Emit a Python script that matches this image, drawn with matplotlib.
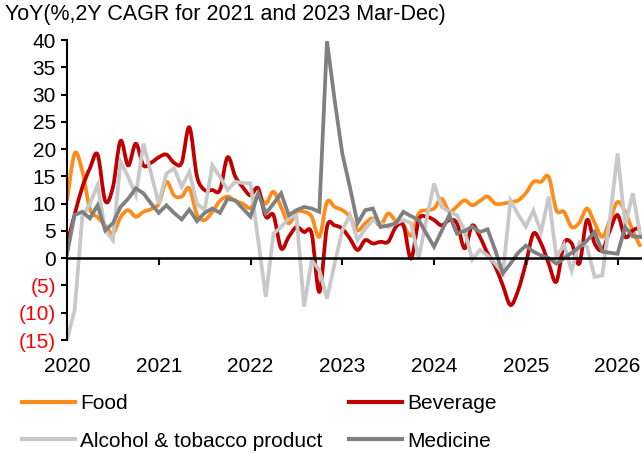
import numpy as np
import pandas as pd
import matplotlib
matplotlib.use("Agg")
import matplotlib.pyplot as plt
from matplotlib.path import Path
from matplotlib.patches import PathPatch
from matplotlib.lines import Line2D

plt.rcParams['font.family'] = ['Liberation Sans', 'DejaVu Sans']

# ---------------- data (monthly, Jan 2020 onward) ----------------
start_month = "2020-01"
title = "YoY(%,2Y CAGR for 2021 and 2023 Mar-Dec)"
series_names = ["Food", "Beverage", "Alcohol & tobacco product", "Medicine"]

food = [10.5, 19.2, 16.0, 9.0, 7.5, 6.0, 4.5, 7.5, 8.8, 7.6, 8.5, 9.0,
        10.0, 14.0, 11.5, 11.3, 12.8, 8.0, 7.0, 8.5, 10.5, 11.3, 10.5, 10.0,
        9.2, 11.5, 10.0, 12.2, 9.4, 6.4, 8.5, 8.5, 7.6, 3.9, 10.3, 9.4,
        8.8, 7.6, 5.1, 6.4, 7.3, 6.0, 8.2, 6.8, 6.0, 4.2, 8.2, 8.8,
        9.1, 10.9, 8.5, 9.5, 10.6, 9.7, 10.5, 11.3, 10.0, 10.0, 10.3, 10.6,
        11.9, 14.0, 14.0, 14.9, 8.8, 8.5, 5.7, 6.5, 9.1, 6.5, 3.9, 7.0,
        10.3, 8.5, 5.0, 2.1]

beverage = [2.5, 8.0, 13.0, 16.5, 19.0, 10.5, 13.0, 21.5, 17.0, 21.0, 17.0, 17.5,
            18.5, 19.0, 17.5, 17.5, 24.0, 15.0, 12.5, 12.5, 12.5, 18.5, 15.0, 13.0,
            11.5, 12.8, 7.6, 7.9, 1.8, 3.9, 5.7, 4.8, 4.5, -6.2, 5.7, 6.0,
            5.4, 3.6, 1.5, 3.3, 2.7, 3.0, 3.0, 5.7, 6.0, -0.1, 7.0, 7.6,
            7.0, 6.0, 7.0, 6.4, 1.8, 6.0, 3.9, 0.9, -1.5, -5.0, -8.6, -5.9,
            -1.0, 4.5, 2.7, -1.0, -4.3, 2.7, 2.7, -1.0, 7.0, 2.7, 1.5, 5.1,
            7.9, 3.9, 5.1, 5.7]

alcohol = [-15.0, -9.5, 7.6, 10.0, 13.4, 5.1, 3.3, 17.7, 14.9, 11.6, 21.0, 15.5,
           10.0, 15.5, 16.5, 13.1, 15.8, 10.0, 8.8, 17.0, 14.9, 12.5, 14.0, 13.8,
           13.7, 3.3, -7.1, 4.5, 5.7, 7.3, 7.9, -8.9, -0.4, -2.2, -7.4, -1.0,
           5.1, 7.9, 3.3, 5.4, 7.0, 6.4, 5.7, 6.4, 7.0, 6.4, 0.0, 7.0,
           13.7, 9.4, 8.5, 7.9, 5.0, -0.2, 1.5, 0.5, -1.0, -2.8, 10.6, 8.0,
           5.8, 8.7, 4.8, 11.3, 0.2, 2.5, -2.3, 2.9, 2.1, -3.4, -3.2, 7.3,
           19.2, 6.0, 11.9, 4.0]

medicine = [0.8, 7.9, 8.5, 7.3, 9.7, 5.1, 6.4, 9.4, 10.9, 12.8, 11.9, 10.0,
            8.3, 9.7, 8.3, 7.1, 8.9, 6.8, 8.3, 9.1, 8.3, 10.9, 10.6, 9.1,
            7.6, 11.9, 8.2, 10.0, 11.9, 7.9, 8.8, 9.4, 9.1, 8.5, 39.8, 29.0,
            19.2, 13.0, 6.4, 8.8, 9.1, 5.7, 6.0, 6.4, 8.5, 7.7, 7.0, 4.5,
            2.1, 5.0, 7.9, 4.5, 5.0, 5.8, 4.8, 5.3, 1.5, -2.8, -1.0, 1.0,
            2.3, 1.2, 0.5, 0.0, -1.0, 0.0, 1.0, 2.0, 3.2, 4.8, 1.2, 1.0,
            0.8, 5.7, 4.0, 3.9]

y_ticks = [40, 35, 30, 25, 20, 15, 10, 5, 0, -5, -10, -15]
x_tick_years = [2020, 2021, 2022, 2023, 2024, 2025, 2026]

colors = ["#FF8C1A", "#C00000", "#C8C8C8", "#808080"]
smoothed = [True, True, False, False]

# ---------------- figure ----------------
W, H = 642, 454
fig = plt.figure(figsize=(W / 100, H / 100), dpi=100)
ax = fig.add_axes([67 / W, 1 - 340 / H, (W - 67) / W, 300 / H])

dates = pd.date_range(start_month, periods=len(food), freq="MS")
x = dates.year.values + (dates.month.values - 1) / 12.0

LW = 2.7


def smooth_patch(xs, ys, color):
    xs = np.asarray(xs, float)
    ys = np.asarray(ys, float)
    n = len(xs)
    verts = [(xs[0], ys[0])]
    codes = [Path.MOVETO]
    for i in range(n - 1):
        p0 = i - 1 if i > 0 else i
        p3 = i + 2 if i + 2 < n else i + 1
        c1 = (xs[i] + (xs[i + 1] - xs[p0]) / 6, ys[i] + (ys[i + 1] - ys[p0]) / 6)
        c2 = (xs[i + 1] - (xs[p3] - xs[i]) / 6, ys[i + 1] - (ys[p3] - ys[i]) / 6)
        verts += [c1, c2, (xs[i + 1], ys[i + 1])]
        codes += [Path.CURVE4] * 3
    return PathPatch(Path(verts, codes), fill=False, edgecolor=color, lw=LW,
                     joinstyle="round", capstyle="butt")


all_series = [food, beverage, alcohol, medicine]
for vals, col, sm in zip(all_series, colors, smoothed):
    if sm:
        ax.add_patch(smooth_patch(x, vals, col))
    else:
        ax.plot(x, vals, color=col, lw=LW, solid_joinstyle="miter")

ax.set_xlim(2020, 2020 + 75.2 / 12)
ax.set_ylim(-15, 40)

for s in ["top", "right"]:
    ax.spines[s].set_visible(False)
ax.spines["left"].set_linewidth(1.5)
ax.spines["bottom"].set_linewidth(1.8)
ax.spines["bottom"].set_position(("data", 0))

ax.set_yticks(y_ticks)
ax.set_yticklabels([str(v) if v >= 0 else f"({-v})" for v in y_ticks])
for lab, v in zip(ax.get_yticklabels(), y_ticks):
    lab.set_color("#FF0000" if v < 0 else "black")
ax.set_xticks(x_tick_years)
ax.set_xticklabels([str(v) for v in x_tick_years])

ax.tick_params(axis="y", direction="out", length=4, width=1.5, pad=4, labelsize=15)
ax.tick_params(axis="x", direction="out", length=5, width=1.5, pad=66, labelsize=15)

fig.text(5 / W, 1 - 4 / H, title, fontsize=15.5, ha="left", va="top")

handles = [Line2D([], [], color=colors[0], lw=3),
           Line2D([], [], color=colors[2], lw=3),
           Line2D([], [], color=colors[1], lw=3),
           Line2D([], [], color=colors[3], lw=3)]
labels = [series_names[0], series_names[2], series_names[1], series_names[3]]
fig.legend(handles, labels, ncol=2, loc="upper left",
           bbox_to_anchor=(22 / W, 1 - 394 / H), frameon=False, fontsize=15,
           handlelength=2.55, handletextpad=0.25, columnspacing=1.25,
           labelspacing=0.9, borderpad=0, borderaxespad=0)

fig.savefig("out.png", dpi=100)
